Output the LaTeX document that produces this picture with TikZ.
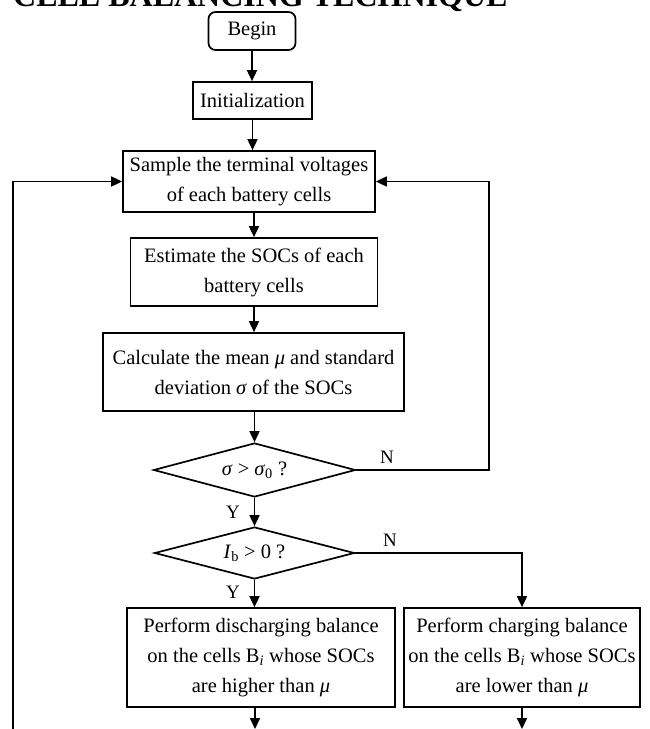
\documentclass[tikz,border=0pt]{standalone}
\usepackage{fontspec}
\setmainfont{Liberation Serif}
\usetikzlibrary{arrows.meta,shapes.geometric}
\begin{document}
\begin{tikzpicture}[x=1pt,y=-1pt,
  every node/.style={font=\fontsize{20.5}{30}\selectfont, inner sep=0pt},
  box/.style={draw, line width=1.7pt, align=center},
  decision/.style={draw, line width=1.7pt, diamond, align=center},
  lab/.style={font=\fontsize{19}{20}\selectfont},
  flow/.style={line width=1.7pt, -{Triangle[length=11pt,width=10pt]}}]
\useasboundingbox (0,0) rectangle (649,729);
\fill[white] (0,0) rectangle (649,729);
\node[anchor=base west, font=\fontsize{32}{34}\selectfont\bfseries] (title) at (13,6) {CELL BALANCING TECHNIQUE};

\node[box, rounded corners=7pt, minimum width=87pt, minimum height=38pt] (begin) at (252,31) {Begin};
\node[box, minimum width=119pt, minimum height=37pt] (init) at (252.5,100.5) {Initialization};
\node[box, minimum width=252pt, minimum height=61pt] (sample) at (249,181.5) {Sample the terminal voltages\\of each battery cells};
\node[box, minimum width=247pt, minimum height=68pt] (estimate) at (254,272) {Estimate the SOCs of each\\battery cells};
\node[box, minimum width=301pt, minimum height=78pt] (calc) at (253.5,372) {Calculate the mean \textit{μ} and standard\\deviation \textit{σ} of the SOCs};
\node[decision, aspect=3.74, minimum width=202pt, minimum height=54pt] (d1) at (254.5,470) {\textit{σ} > \textit{σ}\textsubscript{0} ?};
\node[decision, aspect=3.85, minimum width=200pt, minimum height=52pt] (d2) at (254.5,553) {\textit{I}\textsubscript{b} > 0 ?};
\node[box, minimum width=268pt, minimum height=99pt] (disch) at (261,657.5) {Perform discharging balance\\on the cells B\textsubscript{\textit{i}} whose SOCs\\are higher than \textit{μ}};
\node[box, minimum width=236pt, minimum height=99pt] (ch) at (522,657.5) {Perform charging balance\\on the cells B\textsubscript{\textit{i}} whose SOCs\\are lower than \textit{μ}};

\node[lab] (n1) at (387,457) {N};
\node[lab] (y1) at (233,512) {Y};
\node[lab] (n2) at (390,540) {N};
\node[lab] (y2) at (233,592) {Y};

\coordinate (rloop) at (489,470);
\coordinate (lloop) at (13,729);
\coordinate (endL) at (255,729);
\coordinate (endR) at (522,729);

\draw[flow] (begin.south) -- (begin.south |- init.north);
\draw[flow] (init.south) -- (init.south |- sample.north);
\draw[flow] (estimate.north |- sample.south) -- (estimate.north);
\draw[flow] (estimate.south) -- (estimate.south |- calc.north);
\draw[flow] (d1.north |- calc.south) -- (d1.north);
\draw[flow] (d1.south) -- (d2.north);
\draw[flow] (d2.south) -- (d2.south |- disch.north);
\draw[flow] (d2.east) -| (ch.north);
\draw[flow] (d1.east) -- (rloop) |- (sample.east);
\draw[flow] (lloop) |- (sample.west);
\draw[flow] (endL |- disch.south) -- (endL);
\draw[flow] (ch.south) -- (endR);
\end{tikzpicture}
\end{document}
